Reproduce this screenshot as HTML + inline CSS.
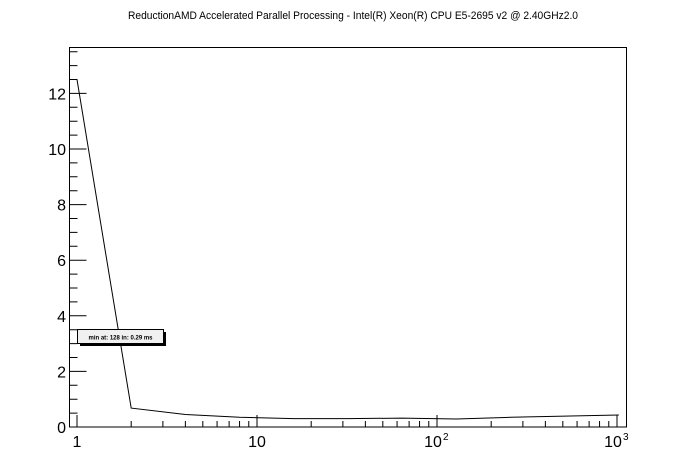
<!DOCTYPE html>
<html><head><meta charset="utf-8"><style>
html,body{margin:0;padding:0;background:#fff;}
svg{display:block;font-family:"Liberation Sans",Arial,sans-serif;}
</style></head><body>
<svg id="chart" width="696" height="474" viewBox="0 0 696 474" xmlns="http://www.w3.org/2000/svg">
<rect width="696" height="474" fill="#fff"/>
<text x="128" y="19" font-size="11" textLength="450" lengthAdjust="spacingAndGlyphs">ReductionAMD Accelerated Parallel Processing - Intel(R) Xeon(R) CPU E5-2695 v2 @ 2.40GHz2.0</text>
<rect x="69.5" y="47.5" width="557" height="379.5" fill="none" stroke="#000" stroke-width="1"/>
<g id="axes"></g>
<g id="series"></g>
<g>
<rect x="80" y="332" width="86" height="14" fill="#000"/>
<rect x="77.5" y="329.5" width="86" height="14" fill="#f0f0f0" stroke="#000"/>
<text x="120.5" y="339.5" font-size="6" text-anchor="middle" font-weight="bold">min at: 128 in: 0.29 ms</text>
</g>
</svg>
<script>
const xValues=[1,2,4,8,16,32,64,128,256,512,1024];
const yValues=[12.5,0.68,0.45,0.35,0.30,0.30,0.32,0.29,0.35,0.39,0.43];
const yTicks=[0,2,4,6,8,10,12];
const xTickLabels=[[1,"1",""],[10,"10",""],[100,"10","2"],[1000,"10","3"]];
const NS="http://www.w3.org/2000/svg";
const X0=77,DEC=180,Y0=427,YU=27.8,L=69.5,R=626.5,T=47.5;
function xs(v){return X0+Math.log10(v)*DEC;}
function ys(v){return Y0-v*YU;}
const ax=document.getElementById('axes');
function mk(tag,attrs,parent){const e=document.createElementNS(NS,tag);for(const k in attrs)e.setAttribute(k,attrs[k]);parent.appendChild(e);return e;}
let d="";
for(let v=0;v<=13.5;v+=0.5){const y=ys(v);const major=Math.abs(v%2)<1e-9;d+=`M${L} ${y}h${major?17:8}`;}
for(let p=0;p<4;p++){for(let m=1;m<10;m++){const v=m*Math.pow(10,p);if(v>1050)break;const x=xs(v);if(x<L)continue;d+=`M${x} ${Y0}v${m==1?-12:-6}`;}}
const ticks=mk('path',{d:d,stroke:'#000','stroke-width':1,fill:'none'},ax);


yTicks.forEach(v=>{const t=mk('text',{x:66,y:ys(v)+6,'font-size':16,'text-anchor':'end'},ax);t.textContent=v;

});
xTickLabels.forEach(([v,b,e])=>{const t=mk('text',{x:xs(v)-(e?4:0),y:447,'font-size':16,'text-anchor':'middle'},ax);t.textContent=b;


if(e){const s=mk('text',{x:xs(v)+6,y:440,'font-size':10},ax);s.textContent=e;

}});
let pts=`${L},${ys(yValues[0])} `+xValues.map((x,i)=>`${xs(x)},${ys(yValues[i])}`).join(' ');
const line=mk('polyline',{points:pts,fill:'none',stroke:'#000','stroke-width':1},document.getElementById('series'));


</script>
</body></html>
